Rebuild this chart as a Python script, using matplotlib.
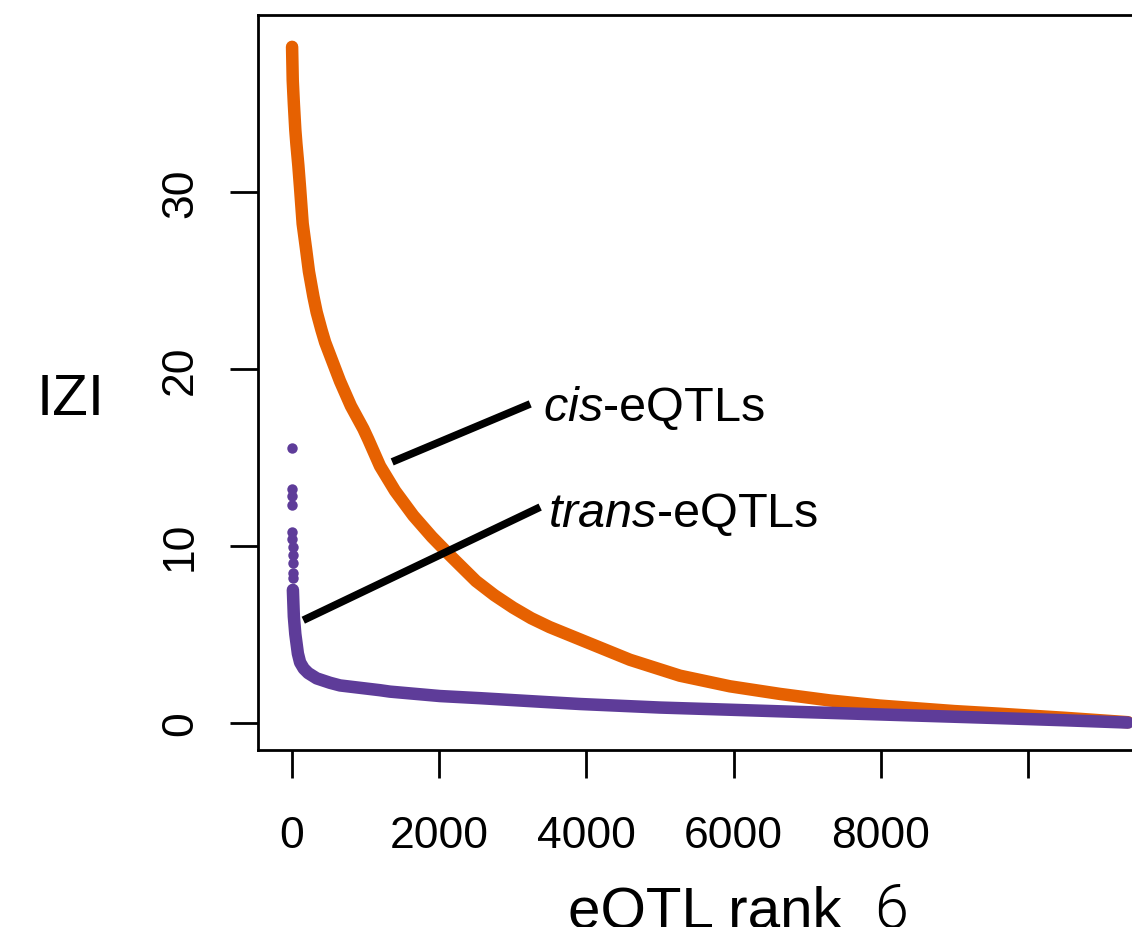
import matplotlib
matplotlib.use("Agg")
import matplotlib.pyplot as plt

# значення
cis_rank = [1, 10, 25, 45, 60, 86, 110, 145, 190, 230, 290, 335, 400, 450, 560, 652,
            800, 970, 1037, 1196, 1400, 1648, 1900, 2147, 2500, 2750, 3003, 3250, 3500,
            3913, 4592, 5271, 5951, 6630, 7310, 7989, 9000, 9620, 10500, 11359]
cis_z = [38.2, 36.3, 35.0, 33.5, 32.7, 31.5, 30.2, 28.2, 26.8, 25.5, 24.1, 23.2, 22.2,
         21.5, 20.3, 19.3, 17.9, 16.6, 16.0, 14.5, 13.1, 11.7, 10.5, 9.45, 8.0, 7.2,
         6.5, 5.9, 5.4, 4.7, 3.55, 2.65, 2.05, 1.62, 1.25, 0.96, 0.65, 0.5, 0.27, 0.02]

trans_top_rank = [1, 2, 3, 4, 5, 6, 7, 8, 9, 10, 11]
trans_top_z = [15.5, 13.2, 12.8, 12.3, 10.8, 10.35, 9.94, 9.45, 9.0, 8.47, 8.2]

trans_rank = [12, 25, 45, 80, 110, 160, 220, 335, 516, 652, 1196, 1331, 2011, 2554,
              3370, 3913, 5000, 6000, 6902, 7989, 9000, 9620, 10500, 11359]
trans_z = [7.5, 6.0, 5.0, 3.9, 3.4, 3.05, 2.8, 2.5, 2.25, 2.1, 1.83, 1.75, 1.5, 1.38,
           1.18, 1.05, 0.85, 0.72, 0.6, 0.46, 0.33, 0.25, 0.13, 0.0]

x_ticks = [0, 2000, 4000, 6000, 8000, 10000]
x_labels = ["0", "2000", "4000", "6000", "8000", ""]
y_ticks = [0, 10, 20, 30]

orange = "#e66101"
purple = "#5e3c99"

plt.rcParams["font.family"] = ["Liberation Sans", "DejaVu Sans"]
plt.rcParams["mathtext.fontset"] = "custom"
plt.rcParams["mathtext.rm"] = "Liberation Sans"
plt.rcParams["mathtext.it"] = "Liberation Sans:italic"

W, H = 1132, 928
fig = plt.figure(figsize=(W / 100, H / 100), dpi=100)
ax = fig.add_axes([258 / W, 1 - 751 / H, (1162 - 258) / W, (751 - 16) / H])

ax.plot(cis_rank, cis_z, color=orange, lw=9, solid_capstyle="round",
        solid_joinstyle="round")
ax.plot(trans_rank, trans_z, color=purple, lw=9, solid_capstyle="round",
        solid_joinstyle="round")
ax.plot(trans_top_rank, trans_top_z, "o", color=purple, ms=7.5, mec="none")

# лінії-підписи
ax.plot([1409, 3189], [14.82, 17.93], color="black", lw=5.5)
ax.plot([200, 3325], [5.88, 12.09], color="black", lw=5.5)
ax.text(3410, 17.12, r"$\it{cis}$-eQTLs", fontsize=35, va="baseline", ha="left")
ax.text(3478, 11.13, r"$\it{trans}$-eQTLs", fontsize=35, va="baseline", ha="left")

ax.set_xlim(-462, 11821)
ax.set_ylim(-1.55, 40.0)
ax.set_xticks(x_ticks)
ax.set_xticklabels(x_labels)
ax.set_yticks(y_ticks)

for s in ax.spines.values():
    s.set_linewidth(2)
ax.tick_params(axis="both", direction="out", length=20, width=2, labelsize=32)
ax.tick_params(axis="x", pad=27)
ax.tick_params(axis="y", pad=21, labelrotation=90)
for lab in ax.get_yticklabels():
    lab.set_va("center")

fig.text(71 / W, 1 - 400 / H, "IZI", fontsize=42, ha="center", va="center")
fig.text(705 / W, 0.0, "eQTL rank", fontsize=42, ha="center", va="baseline")
fig.text(891 / W, 0.0, "6", fontsize=44, ha="center", va="baseline",
         family=["Roboto", "Liberation Sans"], fontweight=300)

fig.savefig("out.png", dpi=100)
